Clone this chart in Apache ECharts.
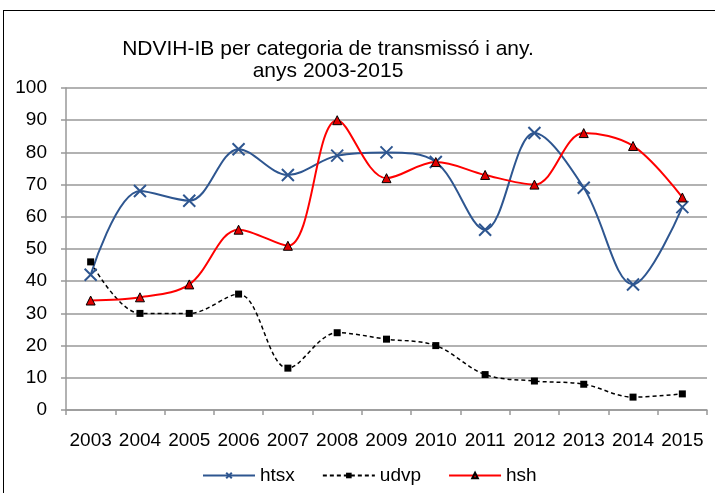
<!DOCTYPE html>
<html>
<head>
<meta charset="utf-8">
<script src="https://cdn.jsdelivr.net/npm/echarts@6/dist/echarts.min.js"></script>
<style>
  html, body { margin: 0; padding: 0; background: #fff; }
  #frame { position: absolute; left: 3px; top: 10px; width: 720px; height: 490px; border: 1px solid #000; box-sizing: border-box; }
  #chart { position: absolute; left: 0; top: 0; width: 715px; height: 493px; }
</style>
</head>
<body>
<div id="frame"></div>
<div id="chart"></div>
<script>
const years = ['2003', '2004', '2005', '2006', '2007', '2008', '2009', '2010', '2011', '2012', '2013', '2014', '2015']
const htsx = [42, 68, 65, 81, 73, 79, 80, 77, 56, 86, 69, 39, 63]
const udvp = [46, 30, 30, 36, 13, 24, 22, 20, 11, 9, 8, 4, 5]
const hsh = [34, 35, 39, 56, 51, 90, 72, 77, 73, 70, 86, 82, 66]

const font = 'Liberation Sans, Arial, sans-serif'
const crossPath = 'path://M0,0L10,10M10,0L0,10'

const chart = echarts.init(document.getElementById('chart'))
chart.setOption({
  animation: false,
  title: {
    text: 'NDVIH-IB per categoria de transmissó i any.\nanys 2003-2015',
    left: 323,
    top: 33,
    textAlign: 'center',
    textStyle: {
      fontFamily: font,
      fontSize: 21,
      fontWeight: 'normal',
      color: '#000',
      lineHeight: 22
    }
  },
  legend: {
    top: 461,
    left: 197,
    itemWidth: 52,
    itemHeight: 7,
    itemGap: 27,
    textStyle: { fontFamily: font, fontSize: 19, color: '#000', padding: [0, 0, 0, 0] },
    data: ['htsx', 'udvp', 'hsh']
  },
  grid: {
    left: 66,
    right: 8,
    top: 88,
    bottom: 83
  },
  xAxis: {
    type: 'category',
    data: years,
    boundaryGap: true,
    axisLine: { lineStyle: { color: '#999', width: 1.5 } },
    axisTick: { show: true, length: 5, interval: 0, lineStyle: { color: '#999', width: 1.5 } },
    axisLabel: { fontFamily: font, fontSize: 19, color: '#000', margin: 21, interval: 0 }
  },
  yAxis: {
    type: 'value',
    min: 0,
    max: 100,
    interval: 10,
    axisLine: { show: true, lineStyle: { color: '#999', width: 1.5 } },
    axisTick: { show: true, length: 5, lineStyle: { color: '#999', width: 1.5 } },
    axisLabel: { fontFamily: font, fontSize: 19, color: '#000', margin: 19 },
    splitLine: { lineStyle: { color: '#999', width: 1.5 } }
  },
  series: [
    {
      name: 'htsx',
      type: 'line',
      data: htsx,
      smooth: 0.35,
      symbol: crossPath,
      symbolSize: 12,
      lineStyle: { color: '#2E5690', width: 2 },
      itemStyle: { color: '#2E5690', borderColor: '#2E5690', borderWidth: 2 }
    },
    {
      name: 'udvp',
      type: 'line',
      data: udvp,
      smooth: 0.35,
      symbol: 'rect',
      symbolSize: 7,
      lineStyle: { color: '#000', width: 1.5, type: [4, 3] },
      itemStyle: { color: '#000' }
    },
    {
      name: 'hsh',
      type: 'line',
      data: hsh,
      smooth: 0.35,
      symbol: 'triangle',
      symbolSize: 9,
      lineStyle: { color: '#FF0000', width: 2 },
      itemStyle: { color: '#E00000', borderColor: '#000', borderWidth: 1 }
    }
  ]
})
</script>
</body>
</html>
